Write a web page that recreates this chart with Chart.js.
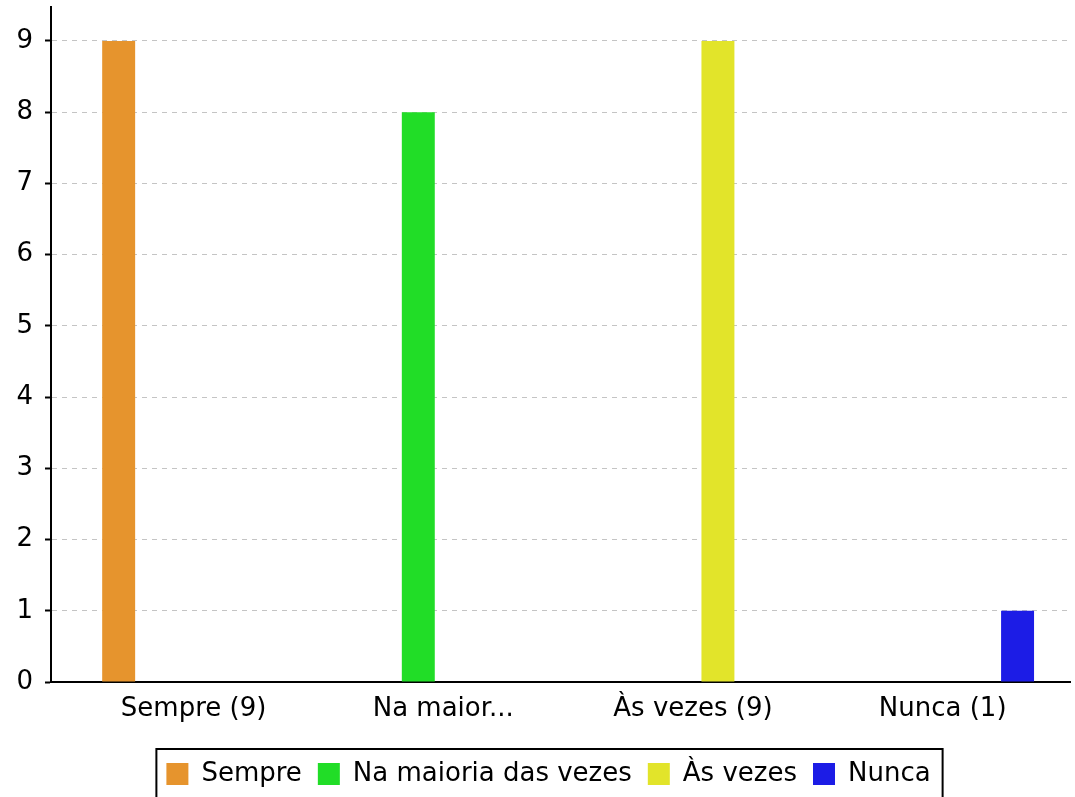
<!DOCTYPE html>
<html>
<head>
<meta charset="utf-8">
<script src="https://cdn.jsdelivr.net/npm/chart.js@4.4.1/dist/chart.umd.min.js"></script>
<style>
  html, body { margin: 0; padding: 0; background: #fff; }
  canvas { display: block; }
</style>
</head>
<body>
<canvas id="chart" width="1075" height="797"></canvas>
<script>
const categories = ['Sempre (9)', 'Na maior...', 'Às vezes (9)', 'Nunca (1)'];
const seriesNames = ['Sempre', 'Na maioria das vezes', 'Às vezes', 'Nunca'];
const counts = [9, 8, 9, 1];
const yTicks = [0, 1, 2, 3, 4, 5, 6, 7, 8, 9];
const colors = ['#e6942d', '#21dd27', '#e2e42a', '#1c1ce6'];

Chart.defaults.font.family = '"DejaVu Sans", sans-serif';
Chart.defaults.font.size = 26;
Chart.defaults.color = '#000';

// each answer is its own series, sitting only at its own category
const datasets = seriesNames.map((name, i) => ({
    label: name,
    data: [{ x: i, y: counts[i] }],
    backgroundColor: colors[i],
    borderWidth: 0,
    categoryPercentage: 0.8,
    barPercentage: 0.66
}));

// black frame around the legend row, legend nudged a bit to the right
const legendFrame = {
    id: 'legendFrame',
    afterLayout(chart) {
        if (!chart.legend) return;
        chart.legend.left += 5;
        chart.legend.right += 5;
    },
    afterDraw(chart) {
        const boxes = chart.legend && chart.legend.legendHitBoxes;
        if (!boxes || !boxes.length) return;
        const first = boxes[0];
        const last = boxes[boxes.length - 1];
        const left = first.left - 10;
        const right = last.left + last.width + 12;
        const top = first.top - 12;
        const ctx = chart.ctx;
        ctx.save();
        ctx.strokeStyle = '#000';
        ctx.lineWidth = 2;
        ctx.strokeRect(left, top, right - left, chart.height + 20 - top);
        ctx.restore();
    }
};

new Chart(document.getElementById('chart'), {
    type: 'bar',
    data: { datasets },
    options: {
        responsive: false,
        animation: false,
        layout: { padding: { top: 7, left: 17, right: 5, bottom: 0 } },
        plugins: {
            tooltip: { enabled: false },
            legend: {
                position: 'bottom',
                labels: {
                    boxWidth: 22,
                    boxHeight: 22,
                    padding: 16,
                    font: { size: 26 }
                }
            }
        },
        scales: {
            x: {
                type: 'linear',
                offset: false,
                min: -0.571,
                max: 3.51,
                grid: { display: false, drawTicks: false, offset: false },
                border: { display: true, color: '#000', width: 2 },
                ticks: {
                    padding: 12,
                    maxRotation: 0,
                    autoSkip: false,
                    callback: v => categories[v]
                },
                afterBuildTicks: s => { s.ticks = categories.map((c, i) => ({ value: i })); },
                afterFit: s => {
                    s.height = 63;
                    s.paddingLeft = 0;
                    s.paddingRight = 0;
                }
            },
            y: {
                min: 0,
                max: 9.477,
                grid: {
                    color: '#c4c4c4',
                    lineWidth: 1,
                    tickColor: '#000',
                    tickWidth: 2,
                    tickLength: 6
                },
                border: { display: true, color: '#000', width: 2, dash: [5, 5] },
                ticks: { stepSize: 1, padding: 12 },
                afterBuildTicks: s => { s.ticks = yTicks.map(v => ({ value: v })); },
                afterFit: s => {
                    s.width = 34;
                    s.paddingTop = 0;
                    s.paddingBottom = 0;
                }
            }
        }
    },
    plugins: [legendFrame]
});
</script>
</body>
</html>
